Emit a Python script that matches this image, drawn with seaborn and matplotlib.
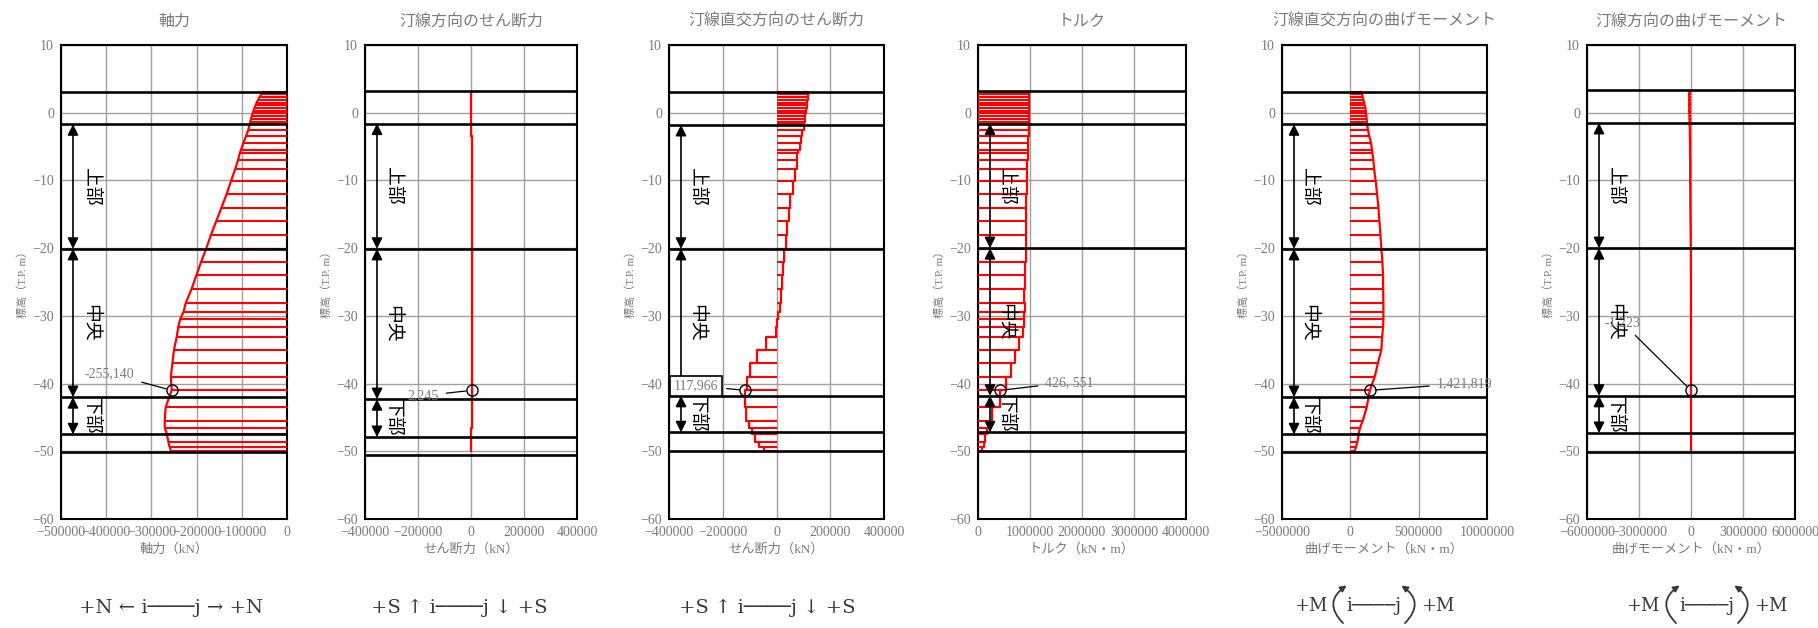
import numpy as np
import pandas as pd
import matplotlib
matplotlib.use("Agg")
import matplotlib.pyplot as plt
import seaborn as sns
from matplotlib.patches import FancyArrowPatch

# 節点標高 (T.P. m)
depth = [3.1, 2.7, 2.3, 1.9, 1.5, 1.1, 0.7, 0.3, -0.1, -0.5, -0.9, -1.3, -1.7,
         -2.6, -3.5, -4.5, -5.5, -6.0, -7.0, -8.3,
         -10.1, -12.0, -14.0, -16.0, -18.0, -20.1,
         -22.0, -24.0, -26.0, -28.1, -29.4,
         -30.5, -31.6, -33.1, -35.0, -36.9, -39.0, -41.0,
         -43.5, -45.5, -46.5, -47.4, -48.6, -49.3, -50.0]

# 軸力 (kN)
axial = [-52000, -57000, -61000, -64000, -67000, -69500, -72000, -74000, -76000, -78000, -79500, -81000, -82500,
         -86000, -91000, -96500, -102000, -104500, -108500, -114500,
         -124000, -133500, -145000, -156500, -168000, -179000,
         -190000, -200500, -211000, -224000, -229000,
         -236500, -240500, -244000, -250000, -253500, -257000, -255140,
         -268500, -270500, -270500, -266000, -262500, -260000, -256500]

# 汀線方向のせん断力 (kN)
shear_y = [600, 700, 800, 900, 1000, 1100, 1200, 1300, 1400, 1500, 1600, 1700, 1800,
           1850, 1900, 1950, 2000, 2000, 2050, 2050,
           2100, 2100, 2150, 2150, 2200, 2200,
           2200, 2210, 2220, 2230, 2235,
           2240, 2240, 2245, 2245, 2245, 2245, 2245,
           2100, 1900, 1700, 1500, 1200, 900, 600]

# 汀線直交方向のせん断力 (kN)
shear_x = [116000, 117000, 116000, 115000, 113000, 112000, 110000, 109000, 107000, 106000, 105000, 103500, 102000,
           96000, 90000, 86000, 81000, 77000, 75000, 70000,
           60000, 51500, 46500, 40500, 35000, 29000,
           25500, 20500, 17000, 12000, 7000,
           2000, -3000, -40000, -72500, -98500, -111000, -117966,
           -114500, -102000, -92000, -80000, -64000, -47500, -29000]

# トルク (kN・m)
torque = [987000, 986000, 986000, 985000, 985000, 984000, 984000, 983000, 982000, 981000, 980000, 978000, 975000,
          975000, 968000, 968000, 962000, 955000, 949000, 942000,
          940000, 929000, 928000, 926000, 923000, 921000,
          910000, 908000, 891000, 895000, 884000,
          878000, 859000, 795000, 718000, 635000, 538000, 426551,
          269000, 212000, 179000, 135000, 121000, 83000, 70000]

# 汀線直交方向の曲げモーメント (kN・m)
moment_x = [761000, 855000, 903000, 952000, 1000000, 1050000, 1098000, 1122000, 1146000, 1171000, 1195000, 1207000, 1222000,
            1295000, 1390000, 1515000, 1588000, 1612000, 1685000, 1735000,
            1856000, 1954000, 2052000, 2125000, 2198000, 2271000,
            2344000, 2393000, 2400000, 2417000, 2420000,
            2417000, 2400000, 2320000, 2271000, 2027000, 1783000, 1421819,
            1198000, 905000, 710000, 612000, 515000, 417000, 320000]

# 汀線方向の曲げモーメント (kN・m)
moment_y = [-90000, -110000, -100000, -110000, -100000, -110000, -100000, -110000, -100000, -90000, -90000, -80000, -80000,
            -70000, -70000, -60000, -60000, -60000, -50000, -50000,
            -50000, -40000, -40000, -30000, -20000, -10000,
            -8000, -6000, -5000, -4000, -3000,
            -2500, -2000, -1800, -1500, -1400, -1300, -1223,
            -1000, -800, -600, -500, -400, -300, -200]

titles = ["軸力", "汀線方向のせん断力", "汀線直交方向のせん断力", "トルク",
          "汀線直交方向の曲げモーメント", "汀線方向の曲げモーメント"]
xlabels = ["軸力（kN）", "せん断力（kN）", "せん断力（kN）", "トルク（kN・m）",
           "曲げモーメント（kN・m）", "曲げモーメント（kN・m）"]
series = [axial, shear_y, shear_x, torque, moment_x, moment_y]
xlims = [(-500000, 0), (-400000, 400000), (-400000, 400000), (0, 4000000),
         (-5000000, 10000000), (-6000000, 6000000)]
xticks = [[-500000, -400000, -300000, -200000, -100000, 0],
          [-400000, -200000, 0, 200000, 400000],
          [-400000, -200000, 0, 200000, 400000],
          [0, 1000000, 2000000, 3000000, 4000000],
          [-5000000, 0, 5000000, 10000000],
          [-6000000, -3000000, 0, 3000000, 6000000]]
yticks = [10, 0, -10, -20, -30, -40, -50, -60]
levels = [[3.1, -1.7, -20.1, -42.0, -47.5, -50.1],
          [3.2, -1.6, -20.1, -42.3, -47.9, -50.6],
          [3.0, -1.8, -20.1, -41.8, -47.2, -49.9],
          [3.2, -1.6, -20.0, -41.8, -47.2, -49.9],
          [3.1, -1.7, -20.1, -42.0, -47.5, -50.1],
          [3.3, -1.5, -20.0, -41.8, -47.3, -50.1]]
sections = ["上部", "中央", "下部"]
peak_depth = -41.0
peak_labels = ["-255,140", "2,245", "117,966", "426, 551", "1,421,819", "-1,223"]
signs = ["+N ← i────j → +N", "+S ↑ i────j ↓ +S", "+S ↑ i────j ↓ +S", None, "M", "M"]

# レイアウト (px)
W, H = 1818, 628
ax_left = [61, 365, 669, 978, 1282, 1587]
ax_width = [226, 212, 215, 208, 205, 208]
steps = [False, True, True, True, False, False]
label_pos = [(0.215, -38.5), (0.275, -41.8), (0.126, -40.3), (0.44, -39.8), (0.89, -40.0), (0.17, -31.0)]
sign_cx = [171, 459, 767, None, 1374, 1707]

sns.set_style("white")
plt.rcParams['font.family'] = ['Liberation Serif', 'Noto Sans CJK JP', 'DejaVu Sans']
plt.rcParams['axes.unicode_minus'] = True

grey = "#7a7a7a"
ink = "#383838"
sign_font = ['DejaVu Serif', 'DejaVu Sans']
fig = plt.figure(figsize=(W / 100, H / 100), dpi=100)


def fmt(v):
    return f"{int(v)}".replace("-", "−")


def moment_sign(cx):
    y = 1 - 606 / H
    kw = dict(fontsize=13, color=ink, va="center", family=sign_font)
    fig.text((cx - 47) / W, y, "+M", ha="right", **kw)
    fig.text(cx / W, y, "i────j", ha="center", **kw)
    fig.text((cx + 47) / W, y, "+M", ha="left", **kw)
    for sgn in (-1, 1):
        arc = FancyArrowPatch(((cx + sgn * 29) / W, 1 - 625 / H), ((cx + sgn * 25) / W, 1 - 584 / H),
                              connectionstyle=f"arc3,rad={0.65 * sgn}", arrowstyle="-|>",
                              mutation_scale=9, lw=1.3, color=ink,
                              transform=fig.transFigure)
        fig.add_artist(arc)


for i in range(6):
    ax = fig.add_axes([ax_left[i] / W, 1 - 519 / H, ax_width[i] / W, 474 / H])
    vals = series[i]
    df = pd.DataFrame({"value": vals, "depth": depth})

    # 分布図
    ax.hlines(df["depth"], 0, df["value"], colors="red", lw=1.5, zorder=4)
    sns.lineplot(data=df, x="value", y="depth", orient="y", sort=False, estimator=None,
                 color="red", lw=1.6, drawstyle="steps-pre" if steps[i] else "default",
                 ax=ax, zorder=4)

    ax.set_xlim(xlims[i])
    ax.set_ylim(-60, 10)
    ax.set_xticks(xticks[i])
    ax.set_xticklabels([fmt(v) for v in xticks[i]])
    ax.set_yticks(yticks)
    ax.set_yticklabels([fmt(v) for v in yticks])
    ax.grid(True, color="#a0a0a0", lw=1.0, zorder=0)
    ax.set_axisbelow(True)
    ax.tick_params(length=0, colors=grey, labelsize=10, pad=5)
    for s in ax.spines.values():
        s.set_color("black")
        s.set_linewidth(1.5)

    ax.set_title(titles[i], fontsize=11.5, color=grey, pad=14)
    ax.set_xlabel(xlabels[i], fontsize=9.5, color=grey, labelpad=3)
    ax.set_ylabel("標高（T.P. m）", fontsize=8, color=grey, labelpad=3)

    # 区間の境界線
    lv = levels[i]
    for y in lv:
        ax.axhline(y, color="black", lw=1.9, zorder=5)

    # 区間の矢印とラベル
    trans = ax.get_yaxis_transform()
    ax_x = 12 / ax_width[i]
    for k, name in enumerate(sections):
        top, bot = lv[k + 1], lv[k + 2]
        ax.annotate("", xy=(ax_x, top), xytext=(ax_x, bot), xycoords=trans, textcoords=trans,
                    arrowprops=dict(arrowstyle="<|-|>", color="black", lw=1.2,
                                    mutation_scale=16, shrinkA=0, shrinkB=0), zorder=6)
        ax.text(0.13, (top + bot) / 2, name, transform=trans, rotation=-90, fontsize=13.5,
                ha="center", va="center", color="black", zorder=6)

    # 最大値の注記
    pv = vals[depth.index(peak_depth)]
    ax.plot([pv], [peak_depth], marker="o", mfc="none", mec="black", ms=8, mew=1.0, zorder=7)
    tx, ty = label_pos[i]
    box = dict(boxstyle="square,pad=0.25", fc="white", ec="black", lw=1.2) if i == 2 else None
    ax.annotate(peak_labels[i], xy=(pv, peak_depth), xytext=(tx, ty), textcoords=trans,
                fontsize=10, color=grey, ha="center", va="center", bbox=box, zorder=7,
                arrowprops=dict(arrowstyle="-", color="black", lw=0.9, shrinkA=3, shrinkB=4))

    # 符号の定義
    if signs[i] == "M":
        moment_sign(sign_cx[i])
    elif signs[i]:
        fig.text(sign_cx[i] / W, 1 - 608 / H, signs[i], fontsize=14, color=ink,
                 ha="center", va="center", family=sign_font)

fig.savefig("out.png", dpi=100)
